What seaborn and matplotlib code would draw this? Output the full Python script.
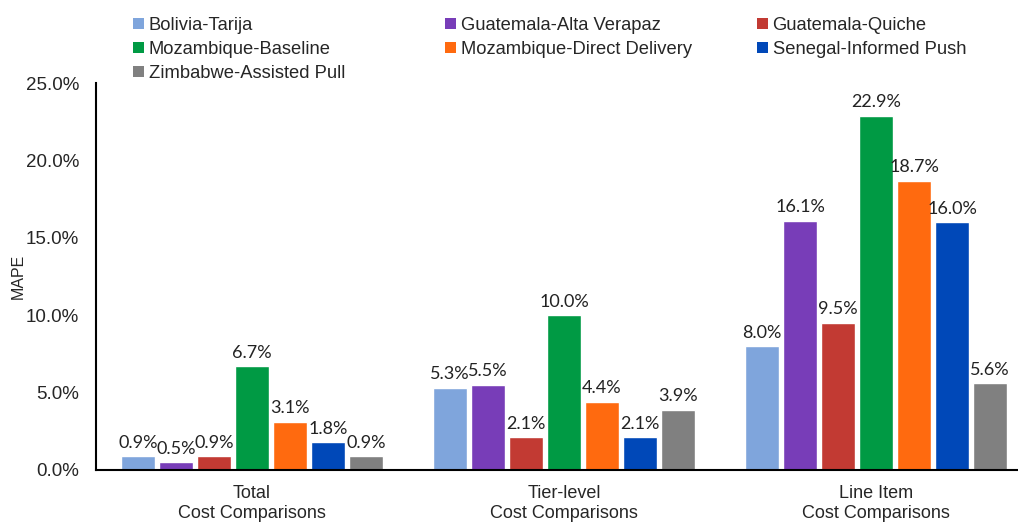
import pandas as pd
import numpy as np
import matplotlib
matplotlib.use('Agg')
import matplotlib.pyplot as plt
import seaborn as sns
from matplotlib.patches import Patch

categories = ['Total\nCost Comparisons', 'Tier-level\nCost Comparisons', 'Line Item\nCost Comparisons']
series = ['Bolivia-Tarija', 'Guatemala-Alta Verapaz', 'Guatemala-Quiche',
          'Mozambique-Baseline', 'Mozambique-Direct Delivery', 'Senegal-Informed Push',
          'Zimbabwe-Assisted Pull']
colors = ['#7FA5DC', '#783DB8', '#C23A33', '#009A44', '#FF6A0F', '#0048B8', '#808080']

bolivia = [0.9, 5.3, 8.0]
alta_verapaz = [0.5, 5.5, 16.1]
quiche = [0.9, 2.1, 9.5]
moz_baseline = [6.7, 10.0, 22.9]
moz_direct = [3.1, 4.4, 18.7]
senegal = [1.8, 2.1, 16.0]
zimbabwe = [0.9, 3.9, 5.6]

values = [bolivia, alta_verapaz, quiche, moz_baseline, moz_direct, senegal, zimbabwe]

rows = []
for s, vals in zip(series, values):
    for c, v in zip(categories, vals):
        rows.append({'Category': c, 'Series': s, 'MAPE': v})
df = pd.DataFrame(rows)

sns.set_style('white')
plt.rcParams['font.family'] = ['Liberation Sans', 'DejaVu Sans']

fig = plt.figure(figsize=(10.18, 5.23), dpi=100)
ax = fig.add_axes([96 / 1018, 53 / 523, 936 / 1018, 387 / 523])

sns.barplot(data=df, x='Category', y='MAPE', hue='Series', hue_order=series,
            palette=colors, width=0.853, gap=0.11, ax=ax, legend=False,
            saturation=1, errorbar=None)

for cont in ax.containers:
    ax.bar_label(cont, fmt='%.1f%%', padding=4, fontsize=13, family='Lato', color='#222222')

ax.set_xlim(-0.5, 2.5)
ax.set_ylim(0, 25)
ax.set_yticks(np.arange(0, 26, 5))
ax.set_yticklabels(['%.1f%%' % t for t in np.arange(0, 26, 5)], fontsize=13.5)
ax.tick_params(axis='x', labelsize=13, length=0, pad=11)
ax.tick_params(axis='y', length=0, pad=12)
ax.set_xlabel('')
ax.set_ylabel('MAPE', fontsize=11.5)
ax.yaxis.set_label_coords(-0.0755, 0.5)
for side in ['top', 'right']:
    ax.spines[side].set_visible(False)
for side in ['left', 'bottom']:
    ax.spines[side].set_color('black')
    ax.spines[side].set_linewidth(1.5)

# legend split into three columns
handles = [Patch(facecolor=c, edgecolor='none') for c in colors]
col_x = [133, 445, 757]
for i, x in enumerate(col_x):
    idx = list(range(i, len(series), 3))
    fig.legend([handles[j] for j in idx], [series[j] for j in idx],
               loc='upper left', bbox_to_anchor=(x / 1018, 1 - 17 / 523),
               frameon=False, fontsize=13.2, handlelength=0.6, handleheight=0.6,
               handletextpad=0.25, labelspacing=0.38, borderpad=0, borderaxespad=0)

plt.savefig('out.png', dpi=100)
